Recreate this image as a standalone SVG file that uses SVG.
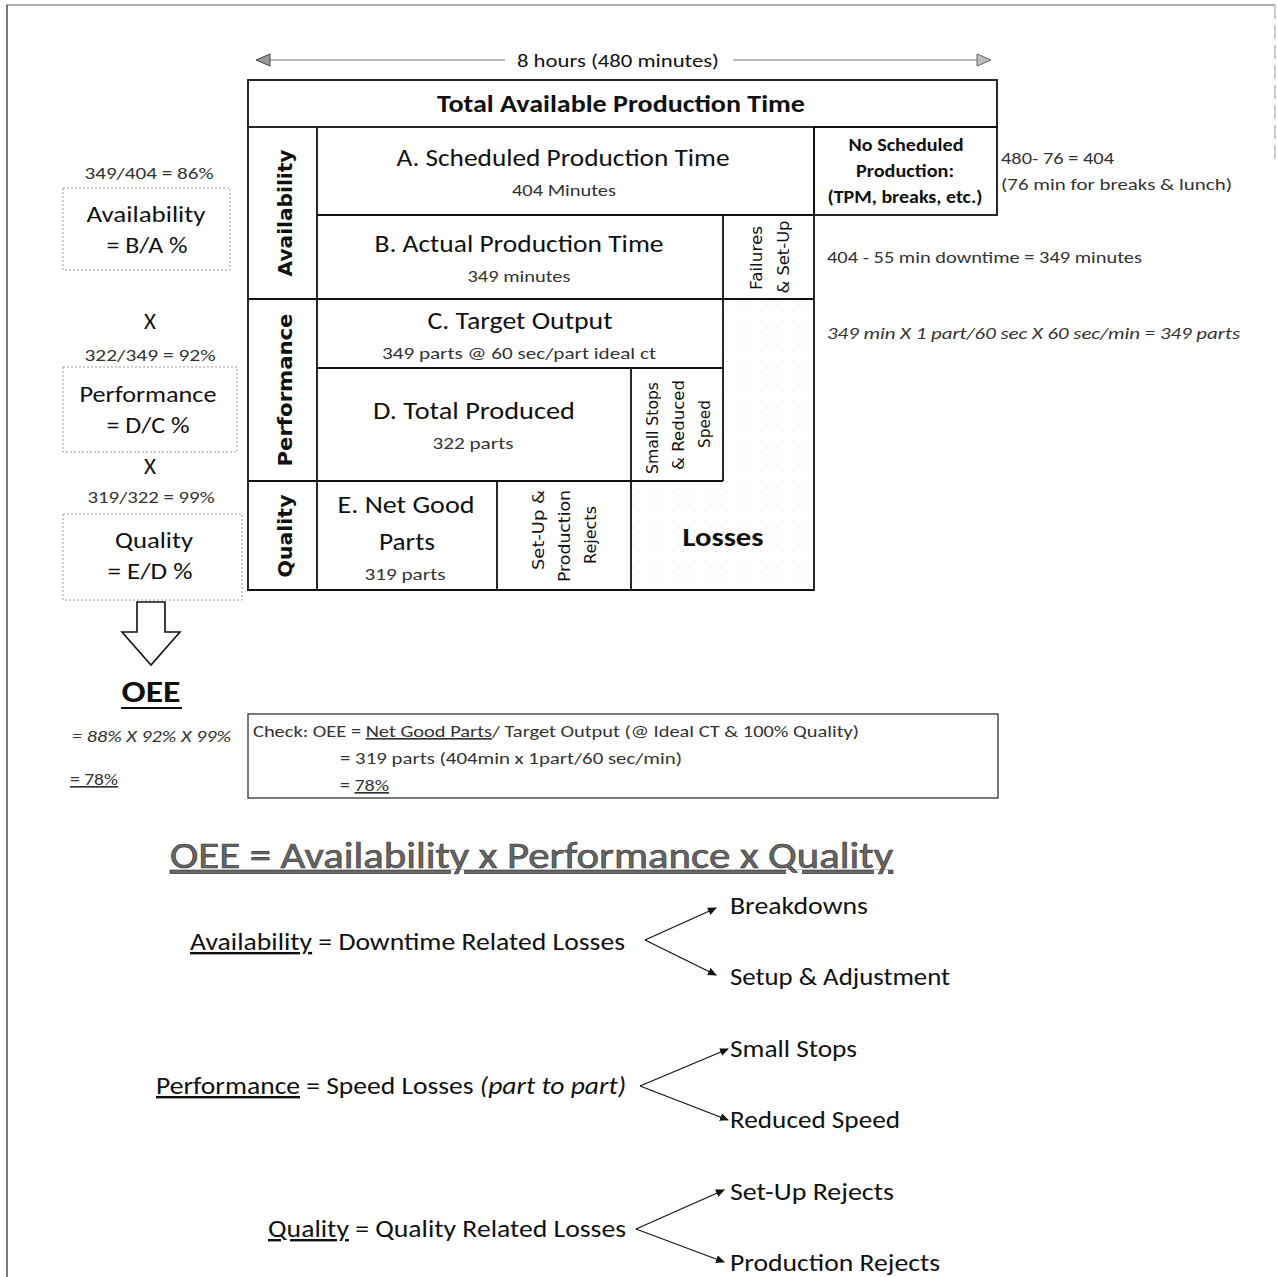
<svg xmlns="http://www.w3.org/2000/svg" width="1278" height="1277" viewBox="0 0 1278 1277">
<style>
text{font-family:Carlito,Lato,"Liberation Sans",sans-serif;fill:#111}
.b{font-weight:bold}
.sm{font-size:16.5px;fill:#333}
.ttl{font-size:25px}
.rot{font-family:"DejaVu Sans","Liberation Sans",sans-serif}
.grid{stroke:#111;stroke-width:1.8;fill:none}
.dot{fill:none;stroke:#9a9a9a;stroke-width:1;stroke-dasharray:2 2}
.conn{stroke:#111;stroke-width:1.2;fill:none}
.mid{text-anchor:middle}
.it{font-style:italic}
</style>
<defs>
<pattern id="stip" width="11" height="10" patternUnits="userSpaceOnUse">
<circle cx="1.5" cy="1.5" r="0.5" fill="#cfcfcf"/>
<circle cx="7" cy="6" r="0.45" fill="#dcdcdc"/>
</pattern>
<marker id="ah" markerWidth="9" markerHeight="8" refX="8" refY="4" orient="auto" markerUnits="userSpaceOnUse">
<path d="M0,0 L9,4 L0,8 Z" fill="#111"/>
</marker>
</defs>
<rect width="1278" height="1277" fill="#fff"/>

<g id="frame">
<line x1="6" y1="5" x2="1275" y2="5" stroke="#666" stroke-width="1"/>
<line x1="7" y1="5" x2="7" y2="1277" stroke="#333" stroke-width="1.3"/>
<line x1="1275" y1="5" x2="1275" y2="160" stroke="#999" stroke-width="1" stroke-dasharray="14 6"/>
</g>

<g id="losses-fill">
<polygon points="723,299 814,299 814,590 631,590 631,481 723,481" fill="url(#stip)"/>
</g>

<g id="grid">
<rect x="248" y="80" width="749" height="47" class="grid"/>
<rect x="814" y="127" width="183" height="88" class="grid"/>
<polyline points="248,127 248,590 814,590 814,127" class="grid"/>
<line x1="317" y1="127" x2="317" y2="590" class="grid"/>
<line x1="317" y1="215" x2="814" y2="215" class="grid"/>
<line x1="248" y1="299" x2="814" y2="299" class="grid"/>
<line x1="723" y1="215" x2="723" y2="481" class="grid"/>
<line x1="317" y1="368" x2="723" y2="368" class="grid"/>
<line x1="248" y1="481" x2="723" y2="481" class="grid"/>
<line x1="631" y1="368" x2="631" y2="590" class="grid"/>
<line x1="497" y1="481" x2="497" y2="590" class="grid"/>
</g>

<g id="connectors">
<line x1="268" y1="60" x2="505" y2="60" stroke="#777" stroke-width="1.2"/>
<line x1="733" y1="60" x2="980" y2="60" stroke="#777" stroke-width="1.2"/>
<polygon points="256,60 270,54 270,66" fill="#999" stroke="#444" stroke-width="1"/>
<polygon points="991,60 977,54 977,66" fill="#bbb" stroke="#666" stroke-width="1"/>
<polygon points="137,602 165,602 165,632 180,632 151,665 122,632 137,632" fill="#fff" stroke="#111" stroke-width="1.6"/>
<line x1="645" y1="940" x2="716" y2="908" class="conn" marker-end="url(#ah)"/>
<line x1="645" y1="940" x2="716" y2="975" class="conn" marker-end="url(#ah)"/>
<line x1="640" y1="1086" x2="728" y2="1049" class="conn" marker-end="url(#ah)"/>
<line x1="640" y1="1086" x2="728" y2="1120" class="conn" marker-end="url(#ah)"/>
<line x1="636" y1="1229" x2="724" y2="1190" class="conn" marker-end="url(#ah)"/>
<line x1="636" y1="1229" x2="724" y2="1262" class="conn" marker-end="url(#ah)"/>
</g>

<g id="duration">
<text x="618" y="67" class="mid" font-size="19" textLength="202" lengthAdjust="spacingAndGlyphs" fill="#222">8 hours (480 minutes)</text>
</g>

<g id="total-time">
<text x="621" y="112" class="mid b ttl" textLength="368" lengthAdjust="spacingAndGlyphs">Total Available Production Time</text>
</g>

<g id="availability-label">
<text transform="translate(285,213) rotate(-90)" class="mid b rot" font-size="19" dominant-baseline="central" textLength="127" lengthAdjust="spacingAndGlyphs">Availability</text>
</g>
<g id="performance-label">
<text transform="translate(285,390) rotate(-90)" class="mid b rot" font-size="19" dominant-baseline="central" textLength="153" lengthAdjust="spacingAndGlyphs">Performance</text>
</g>
<g id="quality-label">
<text transform="translate(285,536) rotate(-90)" class="mid b rot" font-size="19" dominant-baseline="central" textLength="83" lengthAdjust="spacingAndGlyphs">Quality</text>
</g>

<g id="node-a">
<text x="563" y="166" class="mid ttl" textLength="333" lengthAdjust="spacingAndGlyphs">A. Scheduled Production Time</text>
<text x="564" y="196" class="mid sm" textLength="104" lengthAdjust="spacingAndGlyphs">404 Minutes</text>
</g>

<g id="node-no-scheduled">
<text x="906" y="151" class="mid b" font-size="17" textLength="115" lengthAdjust="spacingAndGlyphs">No Scheduled</text>
<text x="905" y="177" class="mid b" font-size="17" textLength="98" lengthAdjust="spacingAndGlyphs">Production:</text>
<text x="905" y="203" class="mid b" font-size="17" textLength="155" lengthAdjust="spacingAndGlyphs">(TPM, breaks, etc.)</text>
</g>

<g id="note-a">
<text x="1001" y="164" class="sm" textLength="113" lengthAdjust="spacingAndGlyphs">480- 76 = 404</text>
<text x="1001" y="190" class="sm" textLength="231" lengthAdjust="spacingAndGlyphs">(76 min for breaks &amp; lunch)</text>
</g>

<g id="node-b">
<text x="519" y="252" class="mid ttl" textLength="289" lengthAdjust="spacingAndGlyphs">B. Actual Production Time</text>
<text x="519" y="282" class="mid sm" textLength="103" lengthAdjust="spacingAndGlyphs">349 minutes</text>
</g>

<g id="node-failures">
<text transform="translate(757,258) rotate(-90)" class="mid rot" font-size="15" dominant-baseline="central" textLength="64" lengthAdjust="spacingAndGlyphs">Failures</text>
<text transform="translate(784,257) rotate(-90)" class="mid rot" font-size="15" dominant-baseline="central" textLength="73" lengthAdjust="spacingAndGlyphs">&amp; Set-Up</text>
</g>

<g id="note-b">
<text x="827" y="263" class="sm" textLength="315" lengthAdjust="spacingAndGlyphs">404 - 55 min downtime = 349 minutes</text>
</g>

<g id="node-c">
<text x="520" y="329" class="mid ttl" textLength="185" lengthAdjust="spacingAndGlyphs">C. Target Output</text>
<text x="519" y="359" class="mid sm" textLength="274" lengthAdjust="spacingAndGlyphs">349 parts @ 60 sec/part ideal ct</text>
</g>

<g id="note-c">
<text x="827" y="339" class="sm it" textLength="413" lengthAdjust="spacingAndGlyphs">349 min X 1 part/60 sec X 60 sec/min = 349 parts</text>
</g>

<g id="node-d">
<text x="474" y="419" class="mid ttl" textLength="202" lengthAdjust="spacingAndGlyphs">D. Total Produced</text>
<text x="473" y="449" class="mid sm" textLength="81" lengthAdjust="spacingAndGlyphs">322 parts</text>
</g>

<g id="node-small-stops">
<text transform="translate(653,428) rotate(-90)" class="mid rot" font-size="15" dominant-baseline="central" textLength="92" lengthAdjust="spacingAndGlyphs">Small Stops</text>
<text transform="translate(679,425) rotate(-90)" class="mid rot" font-size="15" dominant-baseline="central" textLength="90" lengthAdjust="spacingAndGlyphs">&amp; Reduced</text>
<text transform="translate(705,424) rotate(-90)" class="mid rot" font-size="15" dominant-baseline="central" textLength="48" lengthAdjust="spacingAndGlyphs">Speed</text>
</g>

<g id="node-e">
<text x="406" y="513" class="mid ttl" textLength="137" lengthAdjust="spacingAndGlyphs">E. Net Good</text>
<text x="407" y="550" class="mid ttl" textLength="56" lengthAdjust="spacingAndGlyphs">Parts</text>
<text x="405" y="580" class="mid sm" textLength="81" lengthAdjust="spacingAndGlyphs">319 parts</text>
</g>

<g id="node-rejects">
<text transform="translate(539,530) rotate(-90)" class="mid rot" font-size="15" dominant-baseline="central" textLength="80" lengthAdjust="spacingAndGlyphs">Set-Up &amp;</text>
<text transform="translate(565,536) rotate(-90)" class="mid rot" font-size="15" dominant-baseline="central" textLength="92" lengthAdjust="spacingAndGlyphs">Production</text>
<text transform="translate(591,535) rotate(-90)" class="mid rot" font-size="15" dominant-baseline="central" textLength="58" lengthAdjust="spacingAndGlyphs">Rejects</text>
</g>

<g id="node-losses">
<text x="723" y="546" class="mid b" font-size="27" textLength="81" lengthAdjust="spacingAndGlyphs">Losses</text>
</g>

<g id="calc-availability">
<text x="149" y="179" class="mid sm" textLength="129" lengthAdjust="spacingAndGlyphs">349/404 = 86%</text>
<rect x="63" y="188" width="167" height="82" class="dot"/>
<text x="146" y="222" class="mid" font-size="23" textLength="119" lengthAdjust="spacingAndGlyphs">Availability</text>
<text x="147" y="253" class="mid" font-size="23" textLength="81" lengthAdjust="spacingAndGlyphs">= B/A %</text>
</g>
<g id="times-1">
<text x="150" y="329" class="mid" font-size="23">X</text>
</g>
<g id="calc-performance">
<text x="150" y="361" class="mid sm" textLength="131" lengthAdjust="spacingAndGlyphs">322/349 = 92%</text>
<rect x="63" y="367" width="174" height="85" class="dot"/>
<text x="148" y="402" class="mid" font-size="23" textLength="137" lengthAdjust="spacingAndGlyphs">Performance</text>
<text x="148" y="433" class="mid" font-size="23" textLength="83" lengthAdjust="spacingAndGlyphs">= D/C %</text>
</g>
<g id="times-2">
<text x="150" y="474" class="mid" font-size="23">X</text>
</g>
<g id="calc-quality">
<text x="151" y="503" class="mid sm" textLength="127" lengthAdjust="spacingAndGlyphs">319/322 = 99%</text>
<rect x="63" y="514" width="179" height="86" class="dot"/>
<text x="154" y="548" class="mid" font-size="23" textLength="78" lengthAdjust="spacingAndGlyphs">Quality</text>
<text x="150" y="579" class="mid" font-size="23" textLength="85" lengthAdjust="spacingAndGlyphs">= E/D %</text>
</g>

<g id="oee-result">
<text x="151" y="702" class="mid b" font-size="30" textLength="59" lengthAdjust="spacingAndGlyphs">OEE</text>
<line x1="121" y1="708" x2="182" y2="708" stroke="#111" stroke-width="2.2"/>
<text x="72" y="742" class="sm it" textLength="159" lengthAdjust="spacingAndGlyphs">= 88% X 92% X 99%</text>
<text x="70" y="785" class="sm" text-decoration="underline" textLength="48" lengthAdjust="spacingAndGlyphs">= 78%</text>
</g>

<g id="check-box">
<rect x="248" y="714" width="750" height="84" fill="none" stroke="#222" stroke-width="1.2"/>
<text x="253" y="737" class="sm" textLength="606" lengthAdjust="spacingAndGlyphs">Check: OEE = <tspan text-decoration="underline">Net Good Parts</tspan>/ Target Output (@ Ideal CT &amp; 100% Quality)</text>
<text x="340" y="764" class="sm" textLength="342" lengthAdjust="spacingAndGlyphs">= 319 parts (404min x 1part/60 sec/min)</text>
<text x="340" y="791" class="sm" textLength="49" lengthAdjust="spacingAndGlyphs">= <tspan text-decoration="underline">78%</tspan></text>
</g>

<g id="oee-formula">
<text x="170" y="868" font-size="37" style="fill:#666" stroke="#333" stroke-width="0.6" text-decoration="underline" textLength="723" lengthAdjust="spacingAndGlyphs">OEE = Availability x Performance x Quality</text>
</g>

<g id="availability-losses">
<text x="190" y="950" font-size="24" textLength="435" lengthAdjust="spacingAndGlyphs"><tspan text-decoration="underline">Availability</tspan> = Downtime Related Losses</text>
<text x="730" y="914" font-size="24" textLength="138" lengthAdjust="spacingAndGlyphs">Breakdowns</text>
<text x="730" y="985" font-size="24" textLength="220" lengthAdjust="spacingAndGlyphs">Setup &amp; Adjustment</text>
</g>

<g id="performance-losses">
<text x="156" y="1094" font-size="24" textLength="470" lengthAdjust="spacingAndGlyphs"><tspan text-decoration="underline">Performance</tspan> = Speed Losses <tspan font-style="italic">(part to part)</tspan></text>
<text x="730" y="1057" font-size="24" textLength="127" lengthAdjust="spacingAndGlyphs">Small Stops</text>
<text x="730" y="1128" font-size="24" textLength="170" lengthAdjust="spacingAndGlyphs">Reduced Speed</text>
</g>

<g id="quality-losses">
<text x="268" y="1237" font-size="24" textLength="358" lengthAdjust="spacingAndGlyphs"><tspan text-decoration="underline">Quality</tspan> = Quality Related Losses</text>
<text x="730" y="1200" font-size="24" textLength="164" lengthAdjust="spacingAndGlyphs">Set-Up Rejects</text>
<text x="730" y="1271" font-size="24" textLength="210" lengthAdjust="spacingAndGlyphs">Production Rejects</text>
</g>
</svg>
